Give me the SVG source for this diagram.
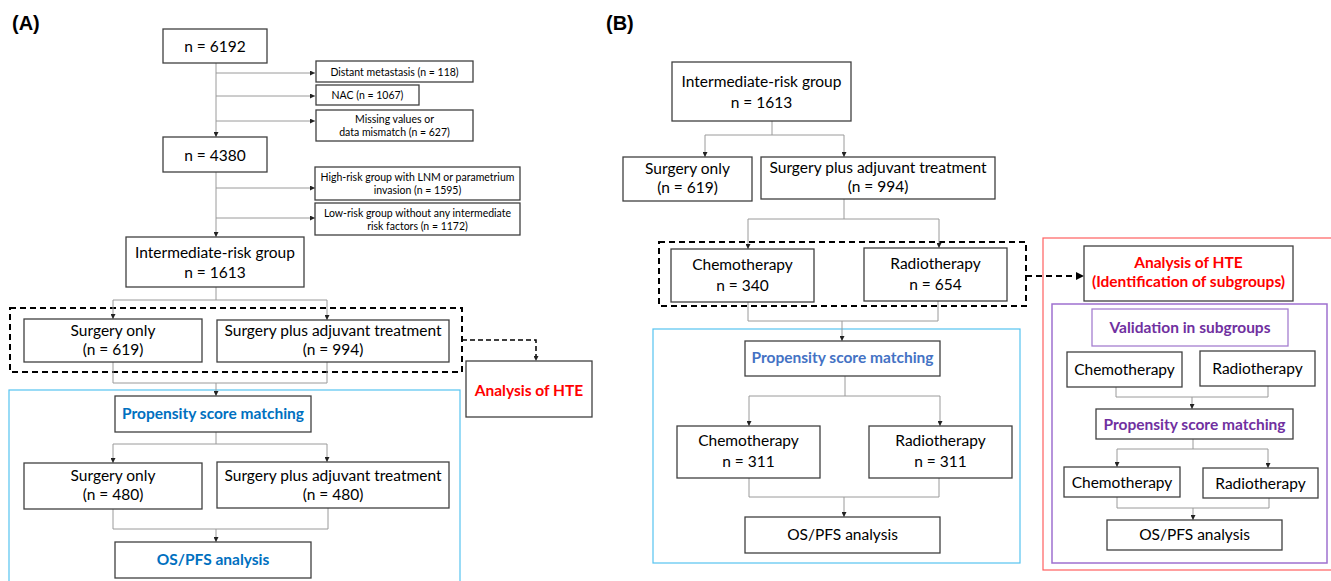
<svg xmlns="http://www.w3.org/2000/svg" width="1331" height="581" viewBox="0 0 1331 581">
<defs>
<marker id="arr" viewBox="0 0 6 6" refX="6" refY="3" markerWidth="5" markerHeight="5" markerUnits="userSpaceOnUse" orient="auto"><path d="M0,0 L6,3 L0,6 z" fill="#222"/></marker>
<marker id="arrB" viewBox="0 0 8 8" refX="8" refY="4" markerWidth="8" markerHeight="8" markerUnits="userSpaceOnUse" orient="auto"><path d="M0,0 L8,4 L0,8 z" fill="#000"/></marker>
</defs>
<style>
.bx{fill:#fff;stroke:#404040;stroke-width:1.3}
.t{font-family:Lato,"Liberation Sans",sans-serif;font-size:15.5px;fill:#000;text-anchor:middle}
.s{font-family:Lato,"Liberation Sans",sans-serif;font-size:10.5px;fill:#000;text-anchor:middle}
.b{font-family:Lato,"Liberation Sans",sans-serif;font-size:15.5px;font-weight:bold;text-anchor:middle}
.lab{font-family:"Liberation Sans",Arial,sans-serif;font-size:20px;font-weight:bold;fill:#000}
.c{fill:none;stroke:#9a9a9a;stroke-width:1}
.d{fill:none;stroke:#000;stroke-width:2;stroke-dasharray:6,4}
.blue{fill:#0070C0}.blue2{fill:#4472C4}.red{fill:#FF0000}.pur{fill:#7030A0}
</style>
<rect width="1331" height="581" fill="#fff"/>
<g id="frames">
<rect x="9" y="390" width="451" height="200" fill="none" stroke="#55C3F0" stroke-width="1.2"/>
<rect x="653" y="329" width="367" height="234" fill="none" stroke="#55C3F0" stroke-width="1.2"/>
<rect x="1043" y="238" width="300" height="332" fill="none" stroke="#FF6060" stroke-width="1.2"/>
<rect x="1052" y="304" width="275" height="259" fill="none" stroke="#9E70CF" stroke-width="1.5"/>
<rect x="10" y="308" width="452" height="64" class="d"/>
<rect x="659" y="242" width="367" height="64" class="d"/>
</g>
<text class="lab" x="12" y="30">(A)</text>
<text class="lab" x="606" y="30">(B)</text>
<g id="connectors">
<path class="c" d="M216,63 V137" marker-end="url(#arr)"/>
<path class="c" d="M216,73 H315" marker-end="url(#arr)"/>
<path class="c" d="M216,96 H315" marker-end="url(#arr)"/>
<path class="c" d="M216,121 H315" marker-end="url(#arr)"/>
<path class="c" d="M216,172 V237" marker-end="url(#arr)"/>
<path class="c" d="M216,188 H315" marker-end="url(#arr)"/>
<path class="c" d="M216,218 H315" marker-end="url(#arr)"/>
<path class="c" d="M216,287 V300"/>
<path class="c" d="M216,300 H113 V319" marker-end="url(#arr)"/>
<path class="c" d="M216,300 H327 V320" marker-end="url(#arr)"/>
<path class="c" d="M113,362 V383 H327 V362"/>
<path class="c" d="M216,383 V396" marker-end="url(#arr)"/>
<path class="c" d="M216,432 V444"/>
<path class="c" d="M216,444 H113 V463" marker-end="url(#arr)"/>
<path class="c" d="M216,444 H327 V462" marker-end="url(#arr)"/>
<path class="c" d="M113,509 V529 H328 V508"/>
<path class="c" d="M216,529 V542" marker-end="url(#arr)"/>
<path d="M462,340 H536 V361" fill="none" stroke="#000" stroke-width="1.5" stroke-dasharray="5,3" marker-end="url(#arr)"/>
<path class="c" d="M772,121 V135"/>
<path class="c" d="M772,135 H705 V157" marker-end="url(#arr)"/>
<path class="c" d="M772,135 H844 V157" marker-end="url(#arr)"/>
<path class="c" d="M844,199 V219"/>
<path class="c" d="M844,219 H748 V249" marker-end="url(#arr)"/>
<path class="c" d="M844,219 H939 V248" marker-end="url(#arr)"/>
<path class="c" d="M748,302 V321 H938 V301"/>
<path class="c" d="M842,321 V341" marker-end="url(#arr)"/>
<path class="c" d="M845,376 V396"/>
<path class="c" d="M845,396 H749 V426" marker-end="url(#arr)"/>
<path class="c" d="M845,396 H940 V426" marker-end="url(#arr)"/>
<path class="c" d="M749,478 V497 H939 V478"/>
<path class="c" d="M844,497 V517" marker-end="url(#arr)"/>
<path d="M1026,276 H1084" class="d" marker-end="url(#arrB)"/>
<path class="c" d="M1116,387 V397 H1268 V386"/>
<path class="c" d="M1192,397 V409" marker-end="url(#arr)"/>
<path class="c" d="M1193,439 V449"/>
<path class="c" d="M1193,449 H1117 V467" marker-end="url(#arr)"/>
<path class="c" d="M1193,449 H1268 V468" marker-end="url(#arr)"/>
<path class="c" d="M1117,497 V508 H1269 V498"/>
<path class="c" d="M1193,508 V520" marker-end="url(#arr)"/>
</g>
<g id="a-n6192"><rect class="bx" x="163" y="29" width="104" height="34"/><text class="t" x="215" y="52">n = 6192</text></g>
<g id="a-distant"><rect class="bx" x="316" y="61" width="157" height="21"/><text class="s" x="394.5" y="75.5">Distant metastasis (n = 118)</text></g>
<g id="a-nac"><rect class="bx" x="316" y="85" width="103" height="20"/><text class="s" x="367.5" y="99">NAC (n = 1067)</text></g>
<g id="a-missing"><rect class="bx" x="316" y="110" width="157" height="31"/><text class="s" x="394.5" y="123">Missing values or</text><text class="s" x="394.5" y="136">data mismatch (n = 627)</text></g>
<g id="a-n4380"><rect class="bx" x="163" y="137" width="104" height="35"/><text class="t" x="215" y="161">n = 4380</text></g>
<g id="a-highrisk"><rect class="bx" x="315" y="167" width="205" height="33"/><text class="s" x="417.5" y="181">High-risk group with LNM or parametrium</text><text class="s" x="417.5" y="194">invasion (n = 1595)</text></g>
<g id="a-lowrisk"><rect class="bx" x="315" y="203" width="205" height="32"/><text class="s" x="417.5" y="217">Low-risk group without any intermediate</text><text class="s" x="417.5" y="230">risk factors (n = 1172)</text></g>
<g id="a-intermediate"><rect class="bx" x="126" y="237" width="178" height="50"/><text class="t" x="215" y="258">Intermediate-risk group</text><text class="t" x="215" y="278">n = 1613</text></g>
<g id="a-surgonly"><rect class="bx" x="24" y="319" width="178" height="43"/><text class="t" x="113" y="336">Surgery only</text><text class="t" x="113" y="355">(n = 619)</text></g>
<g id="a-surgplus"><rect class="bx" x="217" y="320" width="232" height="42"/><text class="t" x="333" y="336">Surgery plus adjuvant treatment</text><text class="t" x="333" y="355">(n = 994)</text></g>
<g id="a-hte"><rect class="bx" x="466" y="361" width="126" height="56"/><text class="b red" x="529" y="396">Analysis of HTE</text></g>
<g id="a-psm"><rect class="bx" x="115" y="396" width="196" height="36"/><text class="b blue" x="213" y="419">Propensity score matching</text></g>
<g id="a-surgonly2"><rect class="bx" x="24" y="463" width="178" height="46"/><text class="t" x="113" y="481">Surgery only</text><text class="t" x="113" y="500">(n = 480)</text></g>
<g id="a-surgplus2"><rect class="bx" x="217" y="462" width="232" height="46"/><text class="t" x="333" y="481">Surgery plus adjuvant treatment</text><text class="t" x="333" y="500">(n = 480)</text></g>
<g id="a-os"><rect class="bx" x="115" y="542" width="196" height="36"/><text class="b blue" x="213" y="565">OS/PFS analysis</text></g>
<g id="b-intermediate"><rect class="bx" x="672" y="62" width="179" height="59"/><text class="t" x="761.5" y="87">Intermediate-risk group</text><text class="t" x="761.5" y="108">n = 1613</text></g>
<g id="b-surgonly"><rect class="bx" x="623" y="157" width="129" height="44"/><text class="t" x="687.5" y="174">Surgery only</text><text class="t" x="687.5" y="193">(n = 619)</text></g>
<g id="b-surgplus"><rect class="bx" x="761" y="157" width="234" height="42"/><text class="t" x="878" y="173">Surgery plus adjuvant treatment</text><text class="t" x="878" y="192">(n = 994)</text></g>
<g id="b-chemo"><rect class="bx" x="671" y="249" width="143" height="53"/><text class="t" x="742.5" y="270">Chemotherapy</text><text class="t" x="742.5" y="291">n = 340</text></g>
<g id="b-radio"><rect class="bx" x="864" y="248" width="143" height="53"/><text class="t" x="935.5" y="269">Radiotherapy</text><text class="t" x="935.5" y="290">n = 654</text></g>
<g id="b-psm"><rect class="bx" x="745" y="341" width="195" height="35"/><text class="b blue2" x="842.5" y="363">Propensity score matching</text></g>
<g id="b-chemo2"><rect class="bx" x="677" y="426" width="143" height="52"/><text class="t" x="748.5" y="446">Chemotherapy</text><text class="t" x="748.5" y="467">n = 311</text></g>
<g id="b-radio2"><rect class="bx" x="869" y="426" width="143" height="52"/><text class="t" x="940.5" y="446">Radiotherapy</text><text class="t" x="940.5" y="467">n = 311</text></g>
<g id="b-os"><rect class="bx" x="745" y="517" width="195" height="36"/><text class="t" x="842.5" y="540">OS/PFS analysis</text></g>
<g id="b-hte"><rect class="bx" x="1084" y="246" width="209" height="55"/><text class="b red" x="1188.5" y="268">Analysis of HTE</text><text class="b red" x="1188.5" y="287">(Identification of subgroups)</text></g>
<g id="b-valid"><rect x="1092" y="309" width="196" height="37" fill="#fff" stroke="#A57FD0" stroke-width="1.3"/><text class="b pur" x="1190" y="333">Validation in subgroups</text></g>
<g id="b-chemo3"><rect class="bx" x="1067" y="352" width="115" height="35"/><text class="t" x="1124.5" y="375">Chemotherapy</text></g>
<g id="b-radio3"><rect class="bx" x="1200" y="351" width="115" height="35"/><text class="t" x="1257.5" y="374">Radiotherapy</text></g>
<g id="b-psm2"><rect class="bx" x="1096" y="409" width="197" height="30"/><text class="b pur" x="1194.5" y="430">Propensity score matching</text></g>
<g id="b-chemo4"><rect class="bx" x="1064" y="467" width="116" height="30"/><text class="t" x="1122" y="488">Chemotherapy</text></g>
<g id="b-radio4"><rect class="bx" x="1203" y="468" width="115" height="30"/><text class="t" x="1260.5" y="489">Radiotherapy</text></g>
<g id="b-os2"><rect class="bx" x="1107" y="520" width="175" height="30"/><text class="t" x="1194.5" y="540">OS/PFS analysis</text></g>
</svg>
